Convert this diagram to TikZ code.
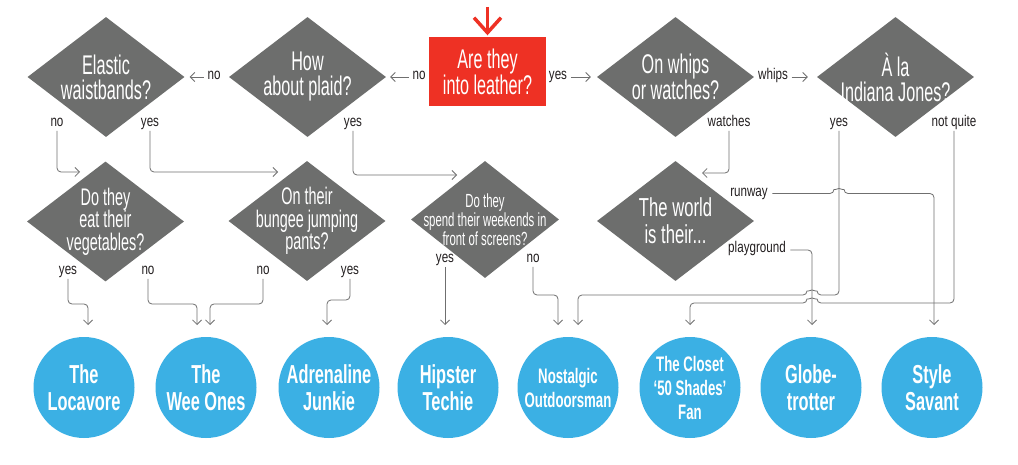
\documentclass[tikz,border=0pt]{standalone}
\usepackage{fontspec}
\usetikzlibrary{shapes.geometric,arrows.meta}
\newfontfamily\dfont[FakeStretch=0.6]{Liberation Sans}
\newfontfamily\wfont[FakeStretch=0.64]{Liberation Sans}
\newfontfamily\lfont[FakeStretch=0.75]{Liberation Sans}
\newfontfamily\pfont[FakeStretch=0.63]{Liberation Sans}
\definecolor{dgray}{HTML}{6D6E6D}
\definecolor{leadred}{HTML}{EE3124}
\definecolor{pblue}{HTML}{3BB0E4}
\definecolor{wire}{HTML}{6F6F6F}
\definecolor{ink}{HTML}{231F20}
\begin{document}
\begin{tikzpicture}[x=1pt,y=-1pt,
  dia/.style={shape=diamond, fill=dgray, minimum width=157pt, minimum height=120pt, inner sep=0pt},
  dtext/.style={text=white, align=center, inner sep=0pt, font=\dfont\fontsize{27}{25}\selectfont},
  dmid/.style={dtext, font=\dfont\fontsize{24}{22.5}\selectfont},
  lead/.style={fill=leadred, minimum width=117pt, minimum height=69pt, inner sep=0pt,
    text=white, align=center, font=\dfont\fontsize{27}{25}\selectfont},
  persona/.style={circle, fill=pblue, minimum size=101pt, inner sep=0pt, text=white,
    align=center, font=\pfont\bfseries\fontsize{26}{27}\selectfont},
  psmall/.style={persona, font=\pfont\bfseries\fontsize{21}{24}\selectfont},
  elbl/.style={text=ink, inner sep=1.5pt, text height=8pt, text depth=2.5pt,
    font=\lfont\fontsize{15.5}{15.5}\selectfont},
  conn/.style={draw=wire, line width=0.8pt, rounded corners=4pt,
    -{Straight Barb[length=4.5pt,width=9pt]}},
  hconn/.style={conn, shorten <=2pt}
]
\fill[white] (0,0) rectangle (1018,465);
\useasboundingbox (0,0) rectangle (1018,465);

% ---- first row of questions ----
\node[dia, label={[dtext]center:Elastic\\waistbands?}] (elastic) at (106,77) {};
\node[dia, label={[dtext]center:How\\about plaid?}] (plaid) at (307.5,77) {};
\node[lead] (lead) at (487.5,71.5) {Are they\\into leather?};
\node[dia, label={[dtext]center:On whips\\or watches?}] (whips) at (675.5,77) {};
\node[dia, label={[dtext]center:À la\\Indiana Jones?}] (indiana) at (895.5,77) {};

% ---- second row of questions ----
\node[dia, label={[dmid]center:Do they\\eat their\\vegetables?}] (veg) at (105.5,221.5) {};
\node[dia, label={[dmid]center:On their\\bungee jumping\\pants?}] (bungee) at (307,221) {};
\node[dia, minimum width=148pt, minimum height=117pt,
  label={[dtext, font=\dfont\fontsize{19}{19}\selectfont]center:Do they\\spend their weekends in\\front of screens?}] (screens) at (485,219.5) {};
\node[dia, label={[dtext, font=\wfont\fontsize{26}{27}\selectfont]center:The world\\is their...}] (world) at (675.5,221) {};

% ---- outcomes ----
\node[persona] (loca) at (84,387.5) {The\\Locavore};
\node[persona] (wee) at (206,387.5) {The\\Wee Ones};
\node[persona] (adren) at (329,387.5) {Adrenaline\\Junkie};
\node[persona] (hip) at (448,387.5) {Hipster\\Techie};
\node[psmall] (nost) at (568,387.5) {Nostalgic\\Outdoorsman};
\node[psmall] (closet) at (690,387.5) {The Closet\\‘50 Shades’\\Fan};
\node[persona] (globe) at (811,387.5) {Globe-\\trotter};
\node[persona] (style) at (932,387.5) {Style\\Savant};

% ---- start marker ----
\coordinate (start) at (487.5,7);
\draw[leadred, line width=3.5pt, -{Straight Barb[length=15pt,width=27pt]}, shorten >=1.5pt] (start) -- (lead.north);

% ---- branch labels ----
\node[elbl] (noA) at (214,77) {no};
\node[elbl] (noB) at (419,77) {no};
\node[elbl] (yesA) at (558,77) {yes};
\node[elbl] (whipsL) at (773,77) {whips};

\node[elbl] (eNo) at (57,124) {no};
\node[elbl] (eYes) at (150,124) {yes};
\node[elbl] (pYes) at (353,124) {yes};
\node[elbl] (wWat) at (729,124) {watches};
\node[elbl] (iYes) at (839,124) {yes};
\node[elbl] (iNot) at (954,124) {not quite};

\node[elbl] (vYes) at (68,272) {yes};
\node[elbl] (vNo) at (148,272) {no};
\node[elbl] (bNo) at (263,272) {no};
\node[elbl] (bYes) at (350,272) {yes};
\node[elbl] (sYes) at (445,260) {yes};
\node[elbl] (sNo) at (533,260) {no};
\node[elbl] (run) at (749,193.5) {runway};
\node[elbl] (play) at (757,250) {playground};

% ---- arrow ends ----
\coordinate (toVeg) at (80,172);
\coordinate (toBungee) at (278,172);
\coordinate (toScreens) at (457,175);
\coordinate (toWorld) at (702,173);
\coordinate (toLoca) at (88,325);
\coordinate (toWeeA) at (197,325);
\coordinate (toWeeB) at (210,325);
\coordinate (toAdren) at (327,325);
\coordinate (toHip) at (445,325);
\coordinate (toNostA) at (558,325);
\coordinate (toNostB) at (578,325);
\coordinate (toCloset) at (690,325);
\coordinate (toGlobe) at (812,325);
\coordinate (toStyle) at (934,325);

% ---- horizontal branches, first row ----
\draw[hconn, shorten >=5pt] (noA) -- (elastic.east);
\draw[hconn, shorten >=4pt] (noB) -- (plaid.east);
\draw[hconn, shorten >=6pt] (yesA) -- (whips.west);
\draw[hconn, shorten >=9pt] (whipsL) -- (indiana.west);

% ---- down to the second row ----
\draw[conn] (eNo.south) |- (toVeg);
\draw[conn] (eYes.south) |- (toBungee);
\draw[conn] (pYes.south) |- (toScreens);
\draw[conn] (wWat.south) |- (toWorld);

% ---- down to the outcomes ----
\draw[conn] (vYes.south) -- (68,304) -- (88,304) -- (toLoca);
\draw[conn] (vNo.south) -- (148,304) -- (197,304) -- (toWeeA);
\draw[conn] (bNo.south) -- (263,304) -- (210,304) -- (toWeeB);
\draw[conn] (bYes.south) -- (350,300) -- (327,300) -- (toAdren);
\draw[conn] (sYes.south) -- (toHip);
\draw[conn] (sNo.south) -- (533,295) -- (558,295) -- (toNostA);
\draw[conn] (play.east) ++(3,0) -- (812,250) -- (toGlobe);
\draw[conn] (run.east) ++(3,0) -- (834,193.5) arc[start angle=180, end angle=360, radius=5] -- (934,193.5) -- (toStyle);
\draw[conn] (iYes.south) -- (839,295) -- (817,295) arc[start angle=0, end angle=-180, radius=5] -- (578,295) -- (toNostB);
\draw[conn] (iNot.south) -- (954,303) -- (817,303) arc[start angle=0, end angle=-180, radius=5] -- (690,303) -- (toCloset);
\end{tikzpicture}
\end{document}
